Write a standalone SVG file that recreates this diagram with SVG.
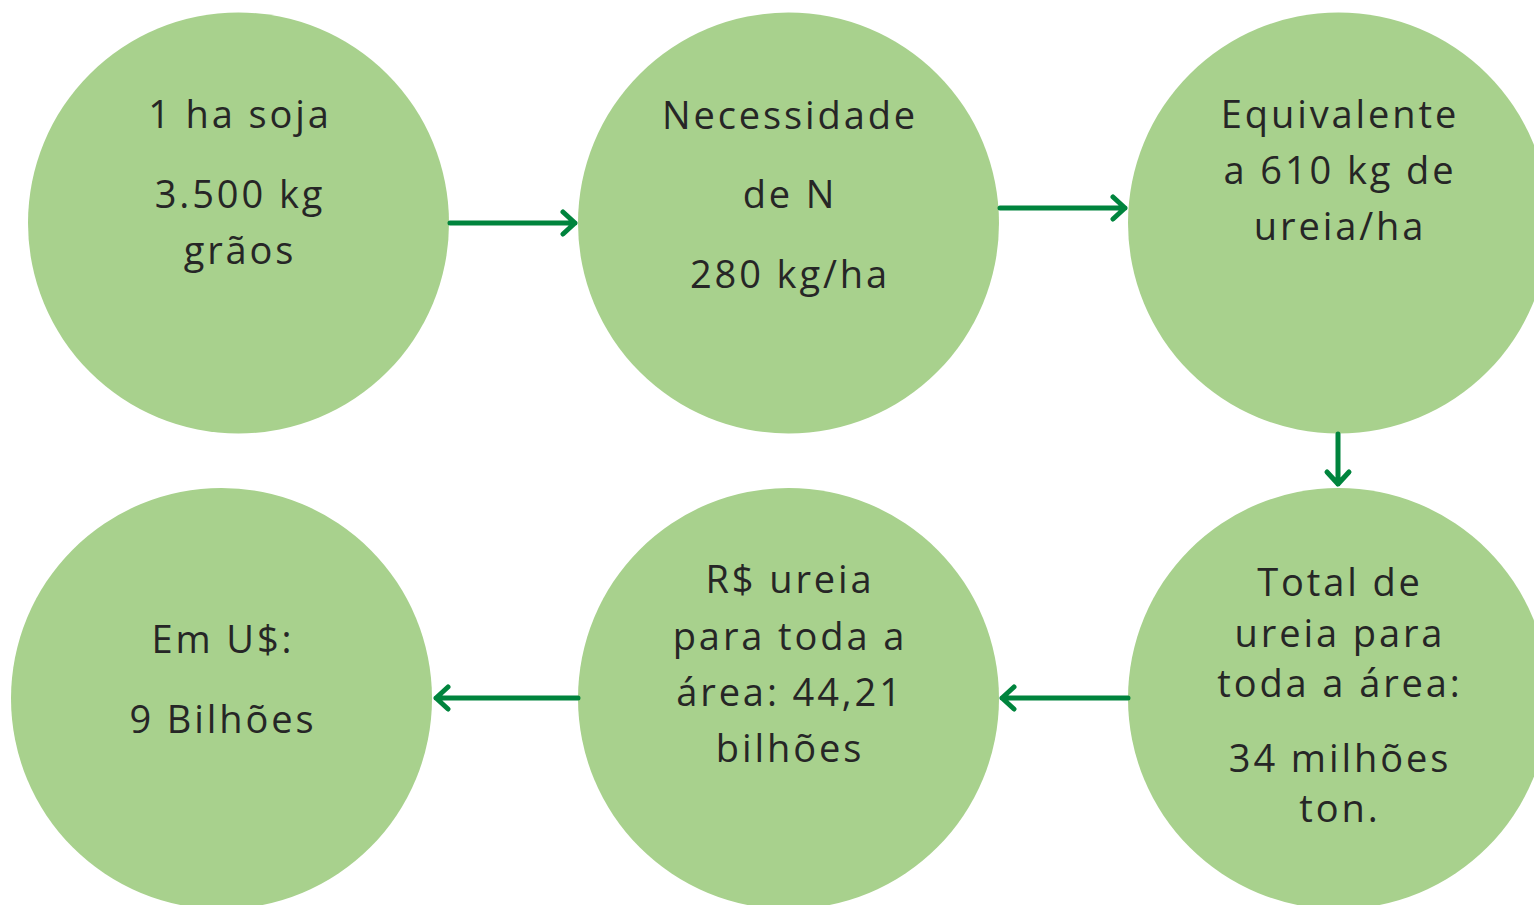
<svg xmlns="http://www.w3.org/2000/svg" width="1534" height="905" viewBox="0 0 1534 905">
<style>
.c{fill:#a8d18d}
.t{font-family:"Open Sans",Lato,sans-serif;font-size:38px;fill:#262626;text-anchor:middle;letter-spacing:2.9px}
.a{stroke:#00843d;stroke-width:5;fill:none;stroke-linecap:round;stroke-linejoin:round}
</style>
<rect width="1534" height="905" fill="#fff"/>
<g id="n1"><circle class="c" cx="238.5" cy="223" r="210.5"/>
<text class="t" x="240" y="128">1 ha soja</text>
<text class="t" x="240" y="208">3.500 kg</text>
<text class="t" x="240" y="264">grãos</text></g>
<g id="n2"><circle class="c" cx="788.5" cy="223" r="210.5"/>
<text class="t" x="790" y="129">Necessidade</text>
<text class="t" x="790" y="208">de N</text>
<text class="t" x="790" y="288">280 kg/ha</text></g>
<g id="n3"><circle class="c" cx="1338.5" cy="223" r="210.5"/>
<text class="t" x="1340" y="128">Equivalente</text>
<text class="t" x="1340" y="184">a 610 kg de</text>
<text class="t" x="1340" y="240">ureia/ha</text></g>
<g id="n6"><circle class="c" cx="1338.5" cy="698.5" r="210.5"/>
<text class="t" x="1340" y="596">Total de</text>
<text class="t" x="1340" y="647">ureia para</text>
<text class="t" x="1340" y="697">toda a área:</text>
<text class="t" x="1340" y="772">34 milhões</text>
<text class="t" x="1340" y="822">ton.</text></g>
<g id="n5"><circle class="c" cx="788.5" cy="698.5" r="210.5"/>
<text class="t" x="790" y="593">R$ ureia</text>
<text class="t" x="790" y="650">para toda a</text>
<text class="t" x="790" y="706">área: 44,21</text>
<text class="t" x="790" y="762">bilhões</text></g>
<g id="n4"><circle class="c" cx="221.5" cy="698.5" r="210.5"/>
<text class="t" x="223" y="653">Em U$:</text>
<text class="t" x="223" y="733">9 Bilhões</text></g>
<g id="connectors">
<path class="a" d="M450 223H575M563 212L575 223L563 234"/>
<path class="a" d="M1000 208H1125M1113 197L1125 208L1113 219"/>
<path class="a" d="M1338 434V484M1327 472L1338 484L1349 472"/>
<path class="a" d="M1128 698H1002M1014 687L1002 698L1014 709"/>
<path class="a" d="M578 698H436M448 687L436 698L448 709"/>
</g>
</svg>
